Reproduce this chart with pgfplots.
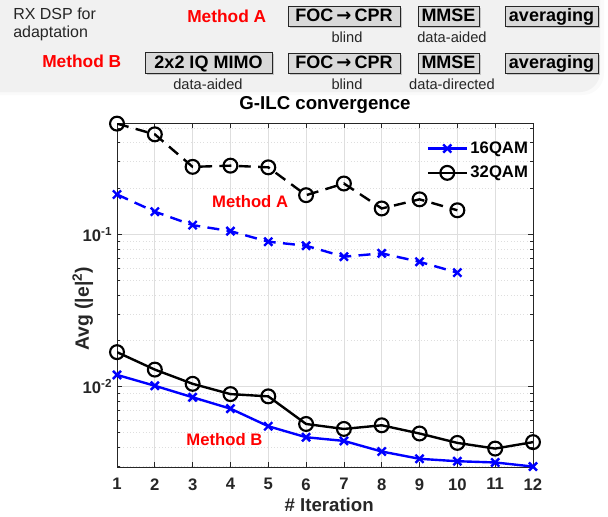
\documentclass[border=0pt]{standalone}
\usepackage{pgfplots}
\pgfplotsset{compat=1.18}
\usepackage{fontspec}
\setmainfont{Liberation Sans}
\newfontfamily\djv{DejaVu Sans}
\definecolor{mgray}{RGB}{38,38,38}
\definecolor{boxgray}{RGB}{217,217,217}
\definecolor{panel}{RGB}{241,241,241}
\definecolor{gridc}{RGB}{222,222,222}
\definecolor{mblue}{RGB}{0,0,255}
\definecolor{mred}{RGB}{255,0,0}
\newcommand\arr{{\djv\bfseries →}}
\begin{document}
\begin{tikzpicture}
\begin{scope}[x=0.75pt,y=-0.75pt]
\useasboundingbox (0,0) rectangle (608,514);
\clip (0,0) rectangle (608,514);
\fill[gray!4, rounded corners=16pt] (-30,-30) rectangle (604,95);
\fill[panel, rounded corners=15pt] (-30,-30) rectangle (600,92);
\node[anchor=base west, inner sep=0pt, font=\fontsize{12}{14}\selectfont, text=mgray] at (13,19) {RX DSP for};
\node[anchor=base west, inner sep=0pt, font=\fontsize{12}{14}\selectfont, text=mgray] at (13,37) {adaptation};
\node[anchor=base west, inner sep=0pt, font=\bfseries\fontsize{13}{15}\selectfont, text=mred] at (187,22) {Method A};
\node[anchor=base west, inner sep=0pt, font=\bfseries\fontsize{13}{15}\selectfont, text=mred] at (42,67) {Method B};
\foreach \xa/\xb/\ya/\yb in {288/400/6/26, 418/479/6/26, 505/598/6/26, 145/272/52/73, 288/400/53/73, 418/479/53/73, 505/598/53/73}{
  \fill[gray!45] (\xa+1.5,\ya+1.5) rectangle (\xb+1.5,\yb+1.5);
  \draw[fill=boxgray, draw=mgray, line width=0.6pt] (\xa,\ya) rectangle (\xb,\yb);
}
\tikzset{bt/.style={anchor=base, inner sep=0pt, font=\bfseries\fontsize{13.5}{15}\selectfont, text=black}}
\tikzset{st/.style={anchor=base, inner sep=0pt, font=\fontsize{11}{13}\selectfont, text=mgray}}
\node[bt] at (344,21) {FOC\,\arr\,CPR};
\node[bt] at (448.5,21) {MMSE};
\node[bt] at (551.5,21) {averaging};
\node[bt] at (208.5,68) {2x2 IQ MIMO};
\node[bt] at (344,68) {FOC\,\arr\,CPR};
\node[bt] at (448.5,68) {MMSE};
\node[bt] at (551.5,68) {averaging};
\node[st] at (347,42) {blind};
\node[st] at (452,42) {data-aided};
\node[st] at (208,89) {data-aided};
\node[st] at (347,89) {blind};
\node[st] at (452,89) {data-directed};
\end{scope}
\begin{axis}[
  at={(87.75pt,-350.25pt)}, anchor=south west,
  scale only axis, width=312pt, height=258pt,
  xmin=1, xmax=12, ymode=log, ymin=0.00295, ymax=0.54,
  xtick={1,...,12},
  ytick={0.01,0.1},
  yticklabels={10\textsuperscript{-2},10\textsuperscript{-1}},
  minor ytick={0.003,0.004,0.005,0.006,0.007,0.008,0.009,0.02,0.03,0.04,0.05,0.06,0.07,0.08,0.09,0.2,0.3,0.4,0.5},
  /pgf/number format/assume math mode=true,
  ticklabel style={font=\bfseries\fontsize{12.5}{14}\selectfont, text=mgray},
  xticklabel style={yshift=-5pt},
  grid=both,
  major grid style={gridc, line width=0.5pt},
  minor grid style={gridc, dotted, line width=0.5pt},
  tick align=inside,
  major tick length=4pt, minor tick length=2.2pt,
  tick style={mgray, line width=0.5pt},
  axis line style={mgray, line width=0.6pt},
  title={G-ILC convergence},
  title style={font=\bfseries\fontsize{14}{16}\selectfont, at={(axis description cs:0.5,1.017)}, anchor=base, inner sep=0pt},
  xlabel={\# Iteration},
  xlabel style={font=\bfseries\fontsize{14}{16}\selectfont, text=mgray, at={(axis description cs:0.51,-0.11)}, anchor=center},
  ylabel={Avg (|e|\textsuperscript{2})},
  ylabel style={font=\bfseries\fontsize{14.5}{16}\selectfont, text=mgray, at={(axis description cs:-0.082,0.46)}, anchor=center},
  legend style={draw=none, fill=none, at={(axis description cs:0.998,0.958)}, anchor=north east, font=\bfseries\fontsize{12.5}{14}\selectfont, row sep=4pt, inner sep=1pt},
  legend cell align=left,
  legend image code/.code={\draw[mark repeat=2,mark phase=2,#1] plot coordinates {(0pt,0pt) (14.5pt,0pt) (29pt,0pt)};},
]
\addplot[mblue, line width=1.8pt, mark=x, mark size=4.3pt, mark options={solid, line width=1.8pt}] coordinates {
(1,0.0119)(2,0.0101)(3,0.00848)(4,0.00714)(5,0.00547)(6,0.00463)(7,0.00438)(8,0.00373)(9,0.00334)(10,0.00322)(11,0.00316)(12,0.00297)};
\addlegendentry{16QAM}
\addplot[black, line width=1.8pt, mark=o, mark size=5.2pt, mark options={solid, line width=1.6pt}] coordinates {
(1,0.0168)(2,0.0129)(3,0.0104)(4,0.0089)(5,0.0086)(6,0.00566)(7,0.00525)(8,0.00555)(9,0.0049)(10,0.00425)(11,0.0039)(12,0.0043)};
\addlegendentry{32QAM}
\addplot[mblue, line width=1.8pt, dash pattern=on 9pt off 5.5pt, mark=x, mark size=4.3pt, mark options={solid, line width=1.8pt}, forget plot] coordinates {
(1,0.183)(2,0.141)(3,0.115)(4,0.105)(5,0.0895)(6,0.0842)(7,0.0713)(8,0.075)(9,0.066)(10,0.056)};
\addplot[black, line width=1.8pt, dash pattern=on 9pt off 5.5pt, mark=o, mark size=5.2pt, mark options={solid, line width=1.6pt}, forget plot] coordinates {
(1,0.535)(2,0.455)(3,0.278)(4,0.283)(5,0.276)(6,0.181)(7,0.216)(8,0.148)(9,0.170)(10,0.144)};
\node[anchor=base, inner sep=0pt, font=\bfseries\fontsize{12.5}{14}\selectfont, text=mred] at (axis cs:4.52,0.151) {Method A};
\node[anchor=base, inner sep=0pt, font=\bfseries\fontsize{12.5}{14}\selectfont, text=mred] at (axis cs:3.84,0.00408) {Method B};
\end{axis}
\end{tikzpicture}
\end{document}
